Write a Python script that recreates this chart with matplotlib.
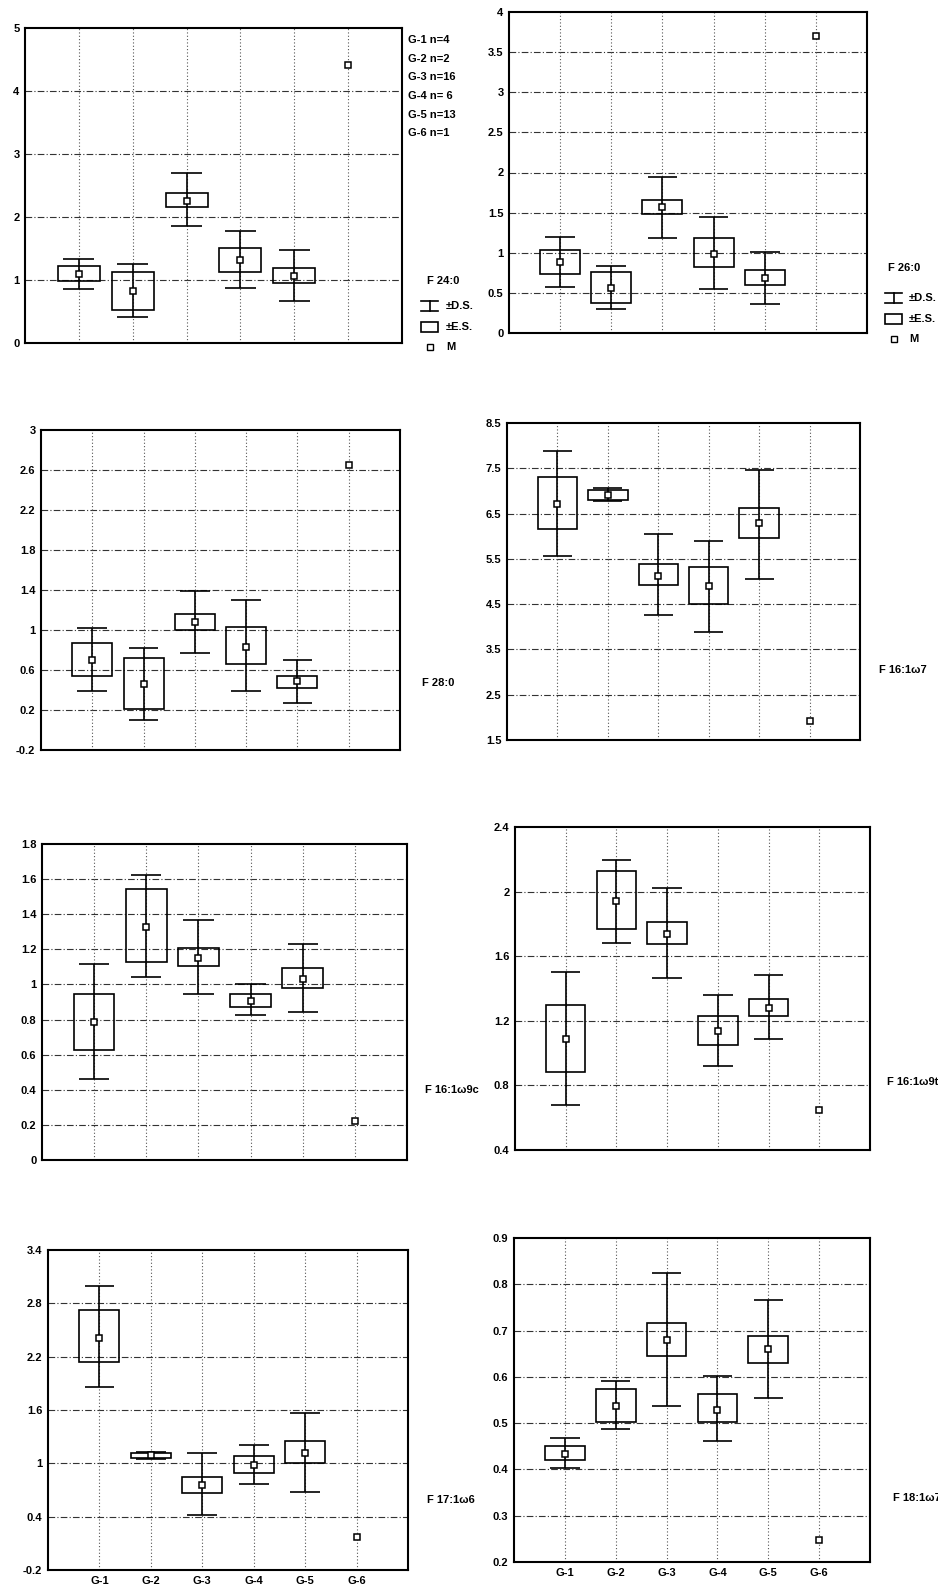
import numpy as np
import matplotlib
matplotlib.use('Agg')
import matplotlib.pyplot as plt
from matplotlib.patches import Rectangle
from matplotlib.lines import Line2D

plt.rcParams['font.family'] = ['Liberation Sans', 'DejaVu Sans']
plt.rcParams['font.weight'] = 'bold'

W, H = 938, 1592
nan = np.nan

groups = ['G-1', 'G-2', 'G-3', 'G-4', 'G-5', 'G-6']
group_n = ['G-1 n=4', 'G-2 n=2', 'G-3 n=16', 'G-4 n= 6', 'G-5 n=13', 'G-6 n=1']

# --- data: mean, +-E.S. box, +-D.S. whiskers (G-6 has n=1, mean only) ---
f240_mean = [1.09, 0.82, 2.26, 1.31, 1.06, 4.42]
f240_se_lo = [0.98, 0.53, 2.16, 1.125, 0.96, nan]
f240_se_hi = [1.23, 1.12, 2.38, 1.50, 1.19, nan]
f240_sd_lo = [0.86, 0.42, 1.86, 0.88, 0.67, nan]
f240_sd_hi = [1.34, 1.26, 2.70, 1.77, 1.48, nan]

f260_mean = [0.88, 0.56, 1.57, 0.99, 0.68, 3.70]
f260_se_lo = [0.73, 0.37, 1.48, 0.82, 0.60, nan]
f260_se_hi = [1.03, 0.755, 1.66, 1.19, 0.78, nan]
f260_sd_lo = [0.57, 0.30, 1.185, 0.55, 0.365, nan]
f260_sd_hi = [1.20, 0.83, 1.95, 1.45, 1.01, nan]

f280_mean = [0.70, 0.46, 1.08, 0.83, 0.49, 2.65]
f280_se_lo = [0.544, 0.209, 1.0, 0.66, 0.424, nan]
f280_se_hi = [0.871, 0.722, 1.156, 1.027, 0.544, nan]
f280_sd_lo = [0.388, 0.105, 0.766, 0.394, 0.271, nan]
f280_sd_hi = [1.024, 0.822, 1.386, 1.297, 0.704, nan]

f161w7_mean = [6.71, 6.91, 5.13, 4.90, 6.29, 1.92]
f161w7_se_lo = [6.15, 6.80, 4.93, 4.50, 5.96, nan]
f161w7_se_hi = [7.31, 7.03, 5.39, 5.33, 6.63, nan]
f161w7_sd_lo = [5.56, 6.77, 4.26, 3.88, 5.06, nan]
f161w7_sd_hi = [7.89, 7.07, 6.05, 5.89, 7.47, nan]

f161w9c_mean = [0.785, 1.327, 1.149, 0.907, 1.03, 0.22]
f161w9c_se_lo = [0.624, 1.128, 1.104, 0.872, 0.981, nan]
f161w9c_se_hi = [0.948, 1.543, 1.21, 0.948, 1.091, nan]
f161w9c_sd_lo = [0.463, 1.041, 0.944, 0.825, 0.841, nan]
f161w9c_sd_hi = [1.114, 1.622, 1.367, 1.001, 1.231, nan]

f161w9t_mean = [1.088, 1.943, 1.74, 1.136, 1.279, 0.65]
f161w9t_se_lo = [0.88, 1.768, 1.674, 1.05, 1.228, nan]
f161w9t_se_hi = [1.296, 2.128, 1.81, 1.227, 1.336, nan]
f161w9t_sd_lo = [0.679, 1.68, 1.466, 0.92, 1.087, nan]
f161w9t_sd_hi = [1.502, 2.196, 2.02, 1.358, 1.482, nan]

f171w6_mean = [2.41, 1.09, 0.754, 0.98, 1.115, 0.175]
f171w6_se_lo = [2.14, 1.06, 0.668, 0.894, 0.999, nan]
f171w6_se_hi = [2.72, 1.12, 0.848, 1.081, 1.247, nan]
f171w6_sd_lo = [1.86, 1.05, 0.417, 0.763, 0.673, nan]
f171w6_sd_hi = [3.0, 1.13, 1.114, 1.209, 1.565, nan]

f181w7_mean = [0.433, 0.537, 0.68, 0.529, 0.66, 0.248]
f181w7_se_lo = [0.42, 0.503, 0.646, 0.503, 0.63, nan]
f181w7_se_hi = [0.451, 0.573, 0.716, 0.562, 0.689, nan]
f181w7_sd_lo = [0.404, 0.488, 0.537, 0.461, 0.555, nan]
f181w7_sd_hi = [0.467, 0.591, 0.824, 0.602, 0.766, nan]

# y ticks of each panel
ticks_240 = [0, 1, 2, 3, 4, 5]
ticks_260 = [0, 0.5, 1, 1.5, 2, 2.5, 3, 3.5, 4]
ticks_280 = [-0.2, 0.2, 0.6, 1, 1.4, 1.8, 2.2, 2.6, 3]
ticks_161w7 = [1.5, 2.5, 3.5, 4.5, 5.5, 6.5, 7.5, 8.5]
ticks_161w9c = [0, 0.2, 0.4, 0.6, 0.8, 1, 1.2, 1.4, 1.6, 1.8]
ticks_161w9t = [0.4, 0.8, 1.2, 1.6, 2, 2.4]
ticks_171w6 = [-0.2, 0.4, 1, 1.6, 2.2, 2.8, 3.4]
ticks_181w7 = [0.2, 0.3, 0.4, 0.5, 0.6, 0.7, 0.8, 0.9]

# panel: (label, mean, se_lo, se_hi, sd_lo, sd_hi, yticks, box px (l, t, r, b), label px, show x labels)
panels = [
    ('F 24:0', f240_mean, f240_se_lo, f240_se_hi, f240_sd_lo, f240_sd_hi, ticks_240,
     (25, 28, 402, 343), (427, 281), False),
    ('F 26:0', f260_mean, f260_se_lo, f260_se_hi, f260_sd_lo, f260_sd_hi, ticks_260,
     (509, 12, 867, 333), (888, 268), False),
    ('F 28:0', f280_mean, f280_se_lo, f280_se_hi, f280_sd_lo, f280_sd_hi, ticks_280,
     (41, 430, 400, 750), (422, 683), False),
    ('F 16:1\u03c97', f161w7_mean, f161w7_se_lo, f161w7_se_hi, f161w7_sd_lo, f161w7_sd_hi, ticks_161w7,
     (507, 423, 860, 740), (879, 670), False),
    ('F 16:1\u03c99c', f161w9c_mean, f161w9c_se_lo, f161w9c_se_hi, f161w9c_sd_lo, f161w9c_sd_hi, ticks_161w9c,
     (42, 844, 407, 1160), (425, 1090), False),
    ('F 16:1\u03c99t', f161w9t_mean, f161w9t_se_lo, f161w9t_se_hi, f161w9t_sd_lo, f161w9t_sd_hi, ticks_161w9t,
     (515, 827, 870, 1150), (887, 1082), False),
    ('F 17:1\u03c96', f171w6_mean, f171w6_se_lo, f171w6_se_hi, f171w6_sd_lo, f171w6_sd_hi, ticks_171w6,
     (48, 1250, 408, 1570), (427, 1500), True),
    ('F 18:1\u03c97', f181w7_mean, f181w7_se_lo, f181w7_se_hi, f181w7_sd_lo, f181w7_sd_hi, ticks_181w7,
     (514, 1238, 870, 1562), (893, 1498), True),
]

BOX_W = 0.78
CAP = 0.29
FS = 8


def fx(px):
    return px / W


def fy(py):
    return 1 - py / H


fig = plt.figure(figsize=(W / 100, H / 100), dpi=100)
fig.patch.set_facecolor('white')

x = np.arange(1, len(groups) + 1)

for (label, mean, se_lo, se_hi, sd_lo, sd_hi, yt, (l, t, r, b), (lx, ly), show_x) in panels:
    ax = fig.add_axes([fx(l), fy(b), (r - l) / W, (b - t) / H])
    mean = np.array(mean)
    se_lo, se_hi = np.array(se_lo), np.array(se_hi)
    sd_lo, sd_hi = np.array(sd_lo), np.array(sd_hi)

    # grid
    for v in yt[1:-1]:
        ax.axhline(v, color='#333333', lw=0.8, ls=(0, (6, 2, 1, 2)), zorder=0)
    for xi in x:
        ax.axvline(xi, color='#555555', lw=0.8, ls=(0, (1, 2)), zorder=0)

    ok = ~np.isnan(se_lo)
    # +-E.S. box
    ax.bar(x[ok], se_hi[ok] - se_lo[ok], bottom=se_lo[ok], width=BOX_W,
           fill=False, edgecolor='black', lw=1.2, zorder=2)
    # +-D.S. whiskers
    ax.vlines(x[ok], sd_lo[ok], sd_hi[ok], color='black', lw=1.2, zorder=3)
    ax.hlines(sd_lo[ok], x[ok] - CAP, x[ok] + CAP, color='black', lw=1.2, zorder=3)
    ax.hlines(sd_hi[ok], x[ok] - CAP, x[ok] + CAP, color='black', lw=1.2, zorder=3)
    # mean
    ax.plot(x, mean, ls='none', marker='s', ms=4.2, mfc='white', mec='black', mew=1.1, zorder=4)

    ax.set_xlim(0, 7)
    ax.set_ylim(yt[0], yt[-1])
    ax.set_yticks(yt)
    ax.set_yticklabels(['%g' % v for v in yt], fontsize=FS, fontweight='bold')
    ax.set_xticks(x)
    if show_x:
        ax.set_xticklabels(groups, fontsize=FS, fontweight='bold')
    else:
        ax.set_xticklabels([])
    ax.tick_params(length=0, pad=4)
    for s in ax.spines.values():
        s.set_linewidth(1.5)
        s.set_color('black')

    fig.text(fx(lx), fy(ly), label, fontsize=FS, fontweight='bold', va='center', ha='left')

# group sizes next to first panel
for i, g in enumerate(group_n):
    fig.text(fx(408), fy(40 + i * 18.7), g, fontsize=FS, fontweight='bold', va='center', ha='left')


# legend symbols (first two panels)
def legend_block(x0, y_ds, y_es, y_m, xt):
    w = 17
    lax = fig.add_axes([0, 0, 1, 1], facecolor='none')
    lax.set_xlim(0, W)
    lax.set_ylim(H, 0)
    lax.axis('off')
    lax.add_line(Line2D([x0, x0 + w], [y_ds - 5, y_ds - 5], color='black', lw=1.2))
    lax.add_line(Line2D([x0, x0 + w], [y_ds + 5, y_ds + 5], color='black', lw=1.2))
    lax.add_line(Line2D([x0 + w / 2, x0 + w / 2], [y_ds - 5, y_ds + 5], color='black', lw=1.2))
    lax.add_patch(Rectangle((x0, y_es - 5), w, 10, fill=False, ec='black', lw=1.2))
    lax.plot([x0 + w / 2], [y_m], ls='none', marker='s', ms=3.8, mfc='white', mec='black', mew=1.0)
    fig.text(fx(xt), fy(y_ds), '\u00b1D.S.', fontsize=FS, fontweight='bold', va='center')
    fig.text(fx(xt), fy(y_es), '\u00b1E.S.', fontsize=FS, fontweight='bold', va='center')
    fig.text(fx(xt), fy(y_m), 'M', fontsize=FS, fontweight='bold', va='center')


legend_block(421, 306, 327, 347, 446)
legend_block(885, 298, 319, 339, 909)

fig.savefig('out.png', dpi=100, facecolor='white')
